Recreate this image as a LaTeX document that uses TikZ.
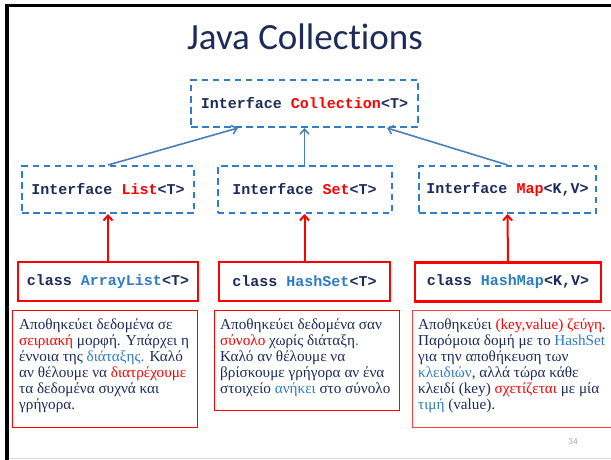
\documentclass[tikz,border=0pt]{standalone}
\usepackage{fontspec}
\setmainfont{Liberation Serif}
\newfontfamily\codefont{Liberation Mono}
\newfontfamily\titlefont[Ligatures=NoCommon]{Carlito}
\usetikzlibrary{arrows.meta,calc}
\definecolor{navy}{HTML}{1C2B5A}
\definecolor{rd}{HTML}{FF0000}
\definecolor{codeblue}{HTML}{2E7BC4}
\definecolor{dashblue}{HTML}{2F7CC8}
\definecolor{arrowblue}{HTML}{4A7EBB}
\definecolor{pagegray}{HTML}{A6A6A6}
\newenvironment{desclines}{\begin{tabular}[t]{@{}l@{}}}{\end{tabular}}
\tikzset{
  ifacebox/.style={draw=dashblue, line width=2pt, dash pattern=on 6.5pt off 4.5pt,
    minimum height=47pt, inner sep=0pt, font=\codefont\bfseries\fontsize{15}{18}\selectfont, text=navy},
  classbox/.style={draw=rd, line width=2.3pt, minimum height=39pt, inner sep=0pt,
    font=\codefont\bfseries\fontsize{15}{18}\selectfont, text=navy},
  descbox/.style={draw=rd, line width=1pt, inner sep=0pt},
  desctext/.style={anchor=base west, inner sep=0pt, text=navy,
    font=\fontsize{15.2}{16}\selectfont},
  inherit/.style={draw=arrowblue, line width=1.6pt, -{Straight Barb[length=5pt,width=9pt,line width=1.6pt]}},
  implement/.style={draw=rd, line width=2pt, -{Straight Barb[length=5pt,width=9pt,line width=2pt]}},
}
\begin{document}
\begin{tikzpicture}[x=1pt,y=-1pt]
\useasboundingbox (0,0) rectangle (611,460);
\fill[white] (0,0) rectangle (611,460);
% slide frame
\fill[black] (5,4) rectangle (611,7.5);
\fill[black] (5,4) rectangle (8.5,460);
\draw[black!15, line width=1.5pt] (8.5,458.5) -- (611,458.5);
% title
\node[anchor=base, text=navy, font=\titlefont\fontsize{37}{40}\selectfont] (title) at (305,50) {Java Collections};
% interfaces
\node[ifacebox, minimum width=227pt] (coll) at (304.5,103.5) {Interface \textcolor{rd}{Collection}<T>};
\node[ifacebox, minimum width=172pt] (list) at (108,189.5) {Interface \textcolor{rd}{List}<T>};
\node[ifacebox, minimum width=174pt] (set) at (304.5,189.5) {Interface \textcolor{rd}{Set}<T>};
\node[ifacebox, minimum width=177pt] (map) at (507.5,189.5) {Interface \textcolor{rd}{Map}<K,V>};
% classes
\node[classbox, minimum width=180pt] (alist) at (108,281.5) {class \textcolor{codeblue}{ArrayList}<T>};
\node[classbox, minimum width=171pt] (hset) at (304.5,281.5) {class \textcolor{codeblue}{HashSet}<T>};
\node[classbox, minimum width=186pt] (hmap) at (508,282) {class \textcolor{codeblue}{HashMap}<K,V>};
% inheritance arrows
\draw[inherit] (list.north) -- ([xshift=-66.5pt]coll.south);
\draw[inherit] (set.north) -- (coll.south);
\draw[inherit] (map.north) -- ([xshift=82.5pt]coll.south);
% implementation arrows
\draw[implement] (alist.north) -- (list.south);
\draw[implement] (hset.north) -- (set.south);
\draw[implement] (hmap.north) -- (map.south);
% description boxes
\draw[descbox] (12.5,310.5) rectangle (197.5,427);
\draw[descbox] (214.5,310.5) rectangle (399,410);
\draw[descbox, draw=rd!75] (412.5,310.5) rectangle (616,427);
\node[desctext] (d1) at (19,329) {\begin{desclines}Αποθηκεύει δεδομένα σε\\
\textcolor{rd}{σειριακή} μορφή. Υπάρχει η\\
έννοια της \textcolor{codeblue}{διάταξης.} Καλό\\
αν θέλουμε να \textcolor{rd}{διατρέχουμε}\\
τα δεδομένα συχνά και\\
γρήγορα.\end{desclines}};
\node[desctext] (d2) at (220,329) {\begin{desclines}Αποθηκεύει δεδομένα σαν\\
\textcolor{rd}{σύνολο} χωρίς διάταξη\textcolor{codeblue}{.}\\
Καλό αν θέλουμε να\\
βρίσκουμε γρήγορα αν ένα\\
στοιχείο \textcolor{codeblue}{ανήκει} στο σύνολο\end{desclines}};
\node[desctext] (d3) at (418,329) {\begin{desclines}Αποθηκεύει \textcolor{rd}{(key,value) ζεύγη}.\\
Παρόμοια δομή με το \textcolor{codeblue}{HashSet}\\
για την αποθήκευση των\\
\textcolor{codeblue}{κλειδιών}, αλλά τώρα κάθε\\
κλειδί (key) \textcolor{rd}{σχετίζεται} με μία\\
\textcolor{codeblue}{τιμή} (value).\end{desclines}};
% page number
\node[anchor=base, text=pagegray, font=\titlefont\fontsize{9}{10}\selectfont] (pnum) at (573,444) {34};
\end{tikzpicture}
\end{document}
